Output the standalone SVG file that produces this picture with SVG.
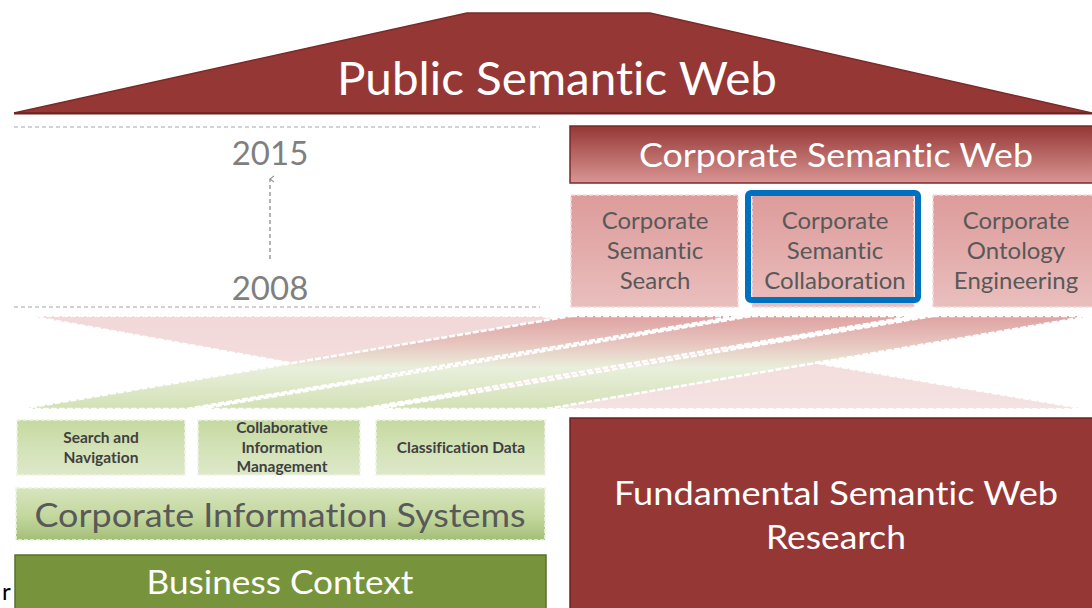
<svg xmlns="http://www.w3.org/2000/svg" width="1092" height="608" viewBox="0 0 1092 608">
<defs>
<style>
text{font-variant-ligatures:none;font-feature-settings:"liga" 0}
.w{fill:#ffffff;font-family:Lato,"Open Sans",sans-serif}
.g{fill:#595959;font-family:Lato,"Open Sans",sans-serif}
.dg{fill:#404040;font-family:Lato,"Open Sans",sans-serif;font-weight:bold;font-size:15.5px}
.yr{fill:#7f7f7f;font-family:Lato,"Open Sans",sans-serif;font-size:33px}
.dash{stroke:#a6a6a6;stroke-width:1.2;stroke-dasharray:4 3;fill:none}
.pbox{fill:url(#pinkG);stroke:#f2dcdb;stroke-width:1.5;stroke-dasharray:4 2}
.gbox{fill:url(#greenG);stroke:#f0f4e6;stroke-width:1.5;stroke-dasharray:4 2}
.band{fill:url(#bandG);stroke:#ffffff;stroke-width:2.5;stroke-dasharray:6 2}
</style>
<linearGradient id="cswG" x1="0" y1="0" x2="0" y2="1">
<stop offset="0" stop-color="#953735"/><stop offset="1" stop-color="#d99694"/>
</linearGradient>
<linearGradient id="pinkG" x1="0" y1="0" x2="0" y2="1">
<stop offset="0" stop-color="#dc9c9b"/><stop offset="0.5" stop-color="#e3acab"/><stop offset="1" stop-color="#e9bfbe"/>
</linearGradient>
<linearGradient id="greenG" x1="0" y1="0" x2="0" y2="1">
<stop offset="0" stop-color="#c6d9a0"/><stop offset="0.5" stop-color="#d3e2b7"/><stop offset="1" stop-color="#dde8c8"/>
</linearGradient>
<linearGradient id="cisG" x1="0" y1="0" x2="0" y2="1">
<stop offset="0" stop-color="#d8e5be"/><stop offset="0.55" stop-color="#c3d79d"/><stop offset="1" stop-color="#a3bf78"/>
</linearGradient>
<linearGradient id="bandG" gradientUnits="userSpaceOnUse" x1="0" y1="316" x2="0" y2="410">
<stop offset="0" stop-color="#dea2a1"/><stop offset="0.3" stop-color="#e8c6c0"/><stop offset="0.55" stop-color="#e9efdc"/><stop offset="1" stop-color="#d2e0b4"/>
</linearGradient>
<linearGradient id="paleG" gradientUnits="userSpaceOnUse" x1="0" y1="316" x2="0" y2="410">
<stop offset="0" stop-color="#f2d8d8"/><stop offset="1" stop-color="#f5e2e2"/>
</linearGradient>
<marker id="openArrow" viewBox="0 0 10 10" refX="5" refY="2" markerWidth="8" markerHeight="8" orient="auto-start-reverse" markerUnits="userSpaceOnUse">
<path d="M1,7 L5,2 L9,7" fill="none" stroke="#8c8c8c" stroke-width="1.3"/>
</marker>
</defs>
<rect width="1092" height="608" fill="#ffffff"/>

<g id="connectors">
<polygon points="30,316 540,316 1086,409 546,409" fill="url(#paleG)" stroke="#ffffff" stroke-width="2" stroke-dasharray="6 2"/>
<polygon class="band" points="571,316 738,316 186,409 20,409"/>
<polygon class="band" points="752,316 914,316 360,409 198,409"/>
<polygon class="band" points="933,316 1091,316 546,409 376,409"/>
<line x1="270" y1="259" x2="270" y2="179" stroke="#8c8c8c" stroke-width="1.3" stroke-dasharray="4 3" marker-end="url(#openArrow)"/>
</g>

<g id="timeline">
<line class="dash" x1="14" y1="127" x2="540" y2="127"/>
<line class="dash" x1="14" y1="307" x2="540" y2="307"/>
<text class="yr" x="270" y="165" text-anchor="middle">2015</text>
<text class="yr" x="270" y="300" text-anchor="middle">2008</text>
</g>

<g id="public-semantic-web">
<polygon points="467,13 650,13 1092,113 14,113" fill="#953735" stroke="#7a2a28" stroke-width="1.5"/>
<line x1="14" y1="113.5" x2="1092" y2="113.5" stroke="#6e2422" stroke-width="2"/>
<text class="w" x="557" y="95" text-anchor="middle" font-size="46" textLength="440" lengthAdjust="spacingAndGlyphs">Public Semantic Web</text>
</g>

<g id="corporate-semantic-web">
<rect x="570" y="126" width="524" height="57" fill="url(#cswG)" stroke="#7a2a28" stroke-width="1.5"/>
<text class="w" x="836" y="167" text-anchor="middle" font-size="33" textLength="394" lengthAdjust="spacingAndGlyphs">Corporate Semantic Web</text>
</g>

<g id="corporate-semantic-search">
<rect class="pbox" x="571" y="195" width="167" height="112"/>
<text class="g" x="655" y="229" text-anchor="middle" font-size="24">Corporate</text>
<text class="g" x="655" y="259" text-anchor="middle" font-size="24">Semantic</text>
<text class="g" x="655" y="289" text-anchor="middle" font-size="24">Search</text>
</g>

<g id="corporate-semantic-collaboration">
<rect class="pbox" x="752" y="195" width="162" height="112"/>
<rect x="748" y="193" width="170" height="107" rx="3" fill="none" stroke="#0070c0" stroke-width="6"/>
<text class="g" x="835" y="229" text-anchor="middle" font-size="24">Corporate</text>
<text class="g" x="835" y="259" text-anchor="middle" font-size="24">Semantic</text>
<text class="g" x="835" y="289" text-anchor="middle" font-size="24">Collaboration</text>
</g>

<g id="corporate-ontology-engineering">
<rect class="pbox" x="933" y="195" width="160" height="112"/>
<text class="g" x="1016" y="229" text-anchor="middle" font-size="24">Corporate</text>
<text class="g" x="1016" y="259" text-anchor="middle" font-size="24">Ontology</text>
<text class="g" x="1016" y="289" text-anchor="middle" font-size="24">Engineering</text>
</g>

<g id="search-and-navigation">
<rect class="gbox" x="17" y="420" width="168" height="55"/>
<text class="dg" x="101" y="443" text-anchor="middle">Search and</text>
<text class="dg" x="101" y="463" text-anchor="middle">Navigation</text>
</g>

<g id="collaborative-information-management">
<rect class="gbox" x="198" y="420" width="162" height="55"/>
<text class="dg" x="282" y="433" text-anchor="middle">Collaborative</text>
<text class="dg" x="282" y="453" text-anchor="middle">Information</text>
<text class="dg" x="282" y="472" text-anchor="middle">Management</text>
</g>

<g id="classification-data">
<rect class="gbox" x="376" y="420" width="169" height="55"/>
<text class="dg" x="461" y="453" text-anchor="middle">Classification Data</text>
</g>

<g id="corporate-information-systems">
<rect x="16" y="488" width="529" height="52" fill="url(#cisG)" stroke="#eef3e2" stroke-width="1.5" stroke-dasharray="4 2"/>
<text class="g" x="280" y="527" text-anchor="middle" font-size="33" fill="#4a4a4a" textLength="491" lengthAdjust="spacingAndGlyphs">Corporate Information Systems</text>
</g>

<g id="business-context">
<rect x="15" y="555" width="531" height="60" fill="#77933c" stroke="#5a7030" stroke-width="1.5"/>
<text class="w" x="280" y="594" text-anchor="middle" font-size="32" textLength="267" lengthAdjust="spacingAndGlyphs">Business Context</text>
</g>

<g id="fundamental-semantic-web-research">
<rect x="570" y="418" width="524" height="195" fill="#953735" stroke="#6e2422" stroke-width="1.5"/>
<text class="w" x="836" y="505" text-anchor="middle" font-size="32" textLength="444" lengthAdjust="spacingAndGlyphs">Fundamental Semantic Web</text>
<text class="w" x="836" y="549" text-anchor="middle" font-size="32" textLength="140" lengthAdjust="spacingAndGlyphs">Research</text>
</g>

<text x="2" y="600" font-family="Lato,'Open Sans',sans-serif" font-size="24" fill="#000000">r</text>
</svg>
